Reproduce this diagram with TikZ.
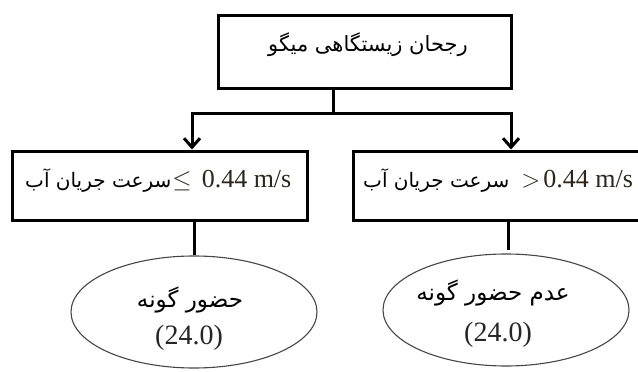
\documentclass[tikz,border=0pt]{standalone}
\usepackage{fontspec}
\setmainfont{Liberation Serif}
\newfontfamily\arabicfont[Script=Arabic]{DejaVu Sans}
\TeXXeTstate=1
\usetikzlibrary{shapes.geometric,arrows.meta}
\definecolor{numcol}{RGB}{45,38,28}
\definecolor{ellcol}{RGB}{70,70,70}
\tikzset{
  boxnode/.style={draw=black,line width=3pt,rectangle,inner sep=0pt},
  ellnode/.style={draw=ellcol,line width=1.1pt,ellipse,inner sep=0pt,minimum width=246pt,minimum height=112pt},
  conn/.style={draw=black,line width=3pt},
  arr/.style={conn,-{Straight Barb[length=9pt,width=16pt,line width=3pt]}},
  txt/.style={inner sep=0pt,font=\fontsize{26}{30}\selectfont,text=numcol},
  elltxt/.style={inner sep=0pt,font=\fontsize{28}{32}\selectfont,text=black!85},
  artxt/.style={inner sep=0pt,font=\fontsize{21}{26}\arabicfont,text=black},
  ellar/.style={inner sep=0pt,font=\fontsize{23}{28}\arabicfont,text=black}
}
\newcommand{\arboxtext}{{\arabicfont\fontsize{20}{26}\selectfont\color{black}\beginR سرعت جریان آب\endR}}
\begin{document}
\begin{tikzpicture}[x=1pt,y=-1pt]
\useasboundingbox (0,0) rectangle (638,372);
% boxes
\node[boxnode,minimum width=293pt,minimum height=73pt] (top) at (364.5,51.5) {};
\node[boxnode,minimum width=295pt,minimum height=69pt] (lbox) at (159.5,185.5) {};
\node[boxnode,minimum width=300pt,minimum height=69pt] (rbox) at (503,185.5) {};
% texts in boxes
\node[artxt] (toptxt) at (368,45) {\beginR رجحان زیستگاهی میگو\endR};
\node[txt,anchor=base west] (ltxt) at (25,187) {\arboxtext\hspace{1pt}$\leq$\hspace{10pt}0.44 m/s};
\node[txt,anchor=base west] (rtxt) at (363,187) {\arboxtext\hspace{12pt}$>$\hspace{3pt}0.44 m/s};
% ellipses
\node[ellnode] (lell) at (194,312) {};
\node[ellnode] (rell) at (506,310) {};
\node[ellar] (le1) at (190,300) {\beginR حضور گونه\endR};
\node[elltxt] (le2) at (189,338) {(24.0)};
\node[ellar] (re1) at (493,293) {\beginR عدم حضور گونه\endR};
\node[elltxt] (re2) at (498,335) {(24.0)};
% connectors
\coordinate (j) at (333,113);
\coordinate (jl) at (192,113);
\coordinate (jr) at (511,113);
\draw[conn] (top.south -| j) -- (j);
\draw[conn,line cap=rect] (jl) -- (jr);
\draw[arr] (jl) -- (jl |- lbox.north);
\draw[arr] (jr) -- (jr |- rbox.north);
\draw[conn] (lbox.south -| lell.north) -- (lell.north);
\draw[conn] (rbox.south -| 508,0) -- (508,250);
\end{tikzpicture}
\end{document}
